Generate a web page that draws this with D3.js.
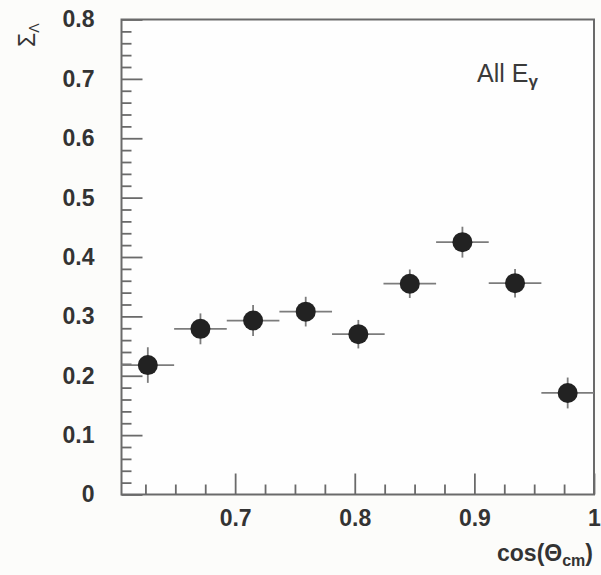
<!DOCTYPE html>
<html>
<head>
<meta charset="utf-8">
<script src="https://cdn.jsdelivr.net/npm/d3@7"></script>
<style>
  html, body { margin: 0; padding: 0; background: #fcfcfa; }
  svg { display: block; }
  text { font-family: "Liberation Sans", Arial, Helvetica, sans-serif; }
</style>
</head>
<body>
<svg id="chart" width="601" height="575"></svg>
<script>
// Beam asymmetry of the Lambda vs. cos(theta_cm), all photon energies
const cosTheta   = [0.627, 0.671, 0.715, 0.759, 0.803, 0.846, 0.890, 0.934, 0.978];
const binHalf    = [0.022, 0.022, 0.022, 0.022, 0.022, 0.022, 0.022, 0.022, 0.022];
const sigmaL     = [0.218, 0.279, 0.293, 0.308, 0.270, 0.355, 0.425, 0.356, 0.171];
const sigmaLErr  = [0.030, 0.026, 0.026, 0.025, 0.024, 0.024, 0.026, 0.024, 0.026];

const xMajorTicks = [0.7, 0.8, 0.9, 1.0];
const xMajorLabels = ["0.7", "0.8", "0.9", "1"];
const yMajorTicks = [0, 0.1, 0.2, 0.3, 0.4, 0.5, 0.6, 0.7, 0.8];
const yMajorLabels = ["0", "0.1", "0.2", "0.3", "0.4", "0.5", "0.6", "0.7", "0.8"];

const svg = d3.select("#chart");
const frame = { left: 121.5, right: 594, top: 19.5, bottom: 494.5 };

const x = d3.scaleLinear().domain([0.605, 1.0]).range([frame.left, frame.right]);
const y = d3.scaleLinear().domain([0, 0.8]).range([frame.bottom, frame.top]);

const axisColor = "#6a6a6a";
const labelColor = "#333";

// frame
svg.append("rect")
  .attr("x", frame.left).attr("y", frame.top)
  .attr("width", frame.right - frame.left)
  .attr("height", frame.bottom - frame.top)
  .attr("fill", "#fefefe")
  .attr("stroke", axisColor)
  .attr("stroke-width", 2);

// minor ticks
const xMinor = d3.range(0.625, 1.0, 0.025).filter(v => xMajorTicks.every(m => Math.abs(m - v) > 1e-6));
const yMinor = d3.range(0.02, 0.8, 0.02).filter(v => yMajorTicks.every(m => Math.abs(m - v) > 1e-6));

function styleAxis(g) {
  g.select(".domain").remove();
  g.selectAll(".tick line").attr("stroke", axisColor).attr("stroke-width", 1.8);
  g.selectAll(".tick text")
    .attr("fill", labelColor)
    .attr("font-size", 23)
    .attr("font-weight", "bold");
}

svg.append("g")
  .attr("transform", `translate(0,${frame.bottom})`)
  .call(d3.axisBottom(x).tickValues(xMinor).tickSize(-10).tickFormat(""))
  .call(styleAxis);

svg.append("g")
  .attr("transform", `translate(0,${frame.bottom})`)
  .call(d3.axisBottom(x).tickValues(xMajorTicks).tickSize(-21).tickPadding(15)
        .tickFormat((d, i) => xMajorLabels[i]))
  .call(styleAxis);

svg.append("g")
  .attr("transform", `translate(${frame.left},0)`)
  .call(d3.axisLeft(y).tickValues(yMinor).tickSize(-10).tickFormat(""))
  .call(styleAxis);

svg.append("g")
  .attr("transform", `translate(${frame.left},0)`)
  .call(d3.axisLeft(y).tickValues(yMajorTicks).tickSize(-21).tickPadding(27)
        .tickFormat((d, i) => yMajorLabels[i]))
  .call(styleAxis);

// data points with error bars
const pts = cosTheta.map((c, i) => ({ c, h: binHalf[i], s: sigmaL[i], e: sigmaLErr[i] }));
const gp = svg.append("g");
const barColor = "#7c7c7c";

gp.selectAll("line.xerr").data(pts).join("line")
  .attr("class", "xerr")
  .attr("x1", d => x(d.c - d.h)).attr("x2", d => x(d.c + d.h))
  .attr("y1", d => y(d.s)).attr("y2", d => y(d.s))
  .attr("stroke", barColor).attr("stroke-width", 1.8);

gp.selectAll("line.yerr").data(pts).join("line")
  .attr("class", "yerr")
  .attr("x1", d => x(d.c)).attr("x2", d => x(d.c))
  .attr("y1", d => y(d.s - d.e)).attr("y2", d => y(d.s + d.e))
  .attr("stroke", barColor).attr("stroke-width", 1.8);

gp.selectAll("circle").data(pts).join("circle")
  .attr("cx", d => x(d.c)).attr("cy", d => y(d.s))
  .attr("r", 10)
  .attr("fill", "#222");

// x-axis title
const xt = svg.append("text")
  .attr("x", 593).attr("y", 561)
  .attr("text-anchor", "end")
  .attr("font-size", 23)
  .attr("font-weight", "bold")
  .attr("fill", labelColor);
xt.append("tspan").text("cos(Θ");
xt.append("tspan").attr("font-size", 16).attr("dy", 5).text("cm");
xt.append("tspan").attr("dy", -5).text(")");

// y-axis title, rotated
const yt = svg.append("text")
  .attr("transform", "translate(35,47) rotate(-90)")
  .attr("font-size", 23)
  .attr("fill", labelColor);
yt.append("tspan").text("Σ");
yt.append("tspan").attr("font-size", 14).attr("dy", 4).text("Λ");

// annotation
const an = svg.append("text")
  .attr("x", 477).attr("y", 82)
  .attr("font-size", 25)
  .attr("fill", "#3a3a3a");
an.append("tspan").text("All E");
an.append("tspan").attr("font-size", 17).attr("dy", 5).attr("font-weight", "bold").text("γ");
</script>
</body>
</html>
